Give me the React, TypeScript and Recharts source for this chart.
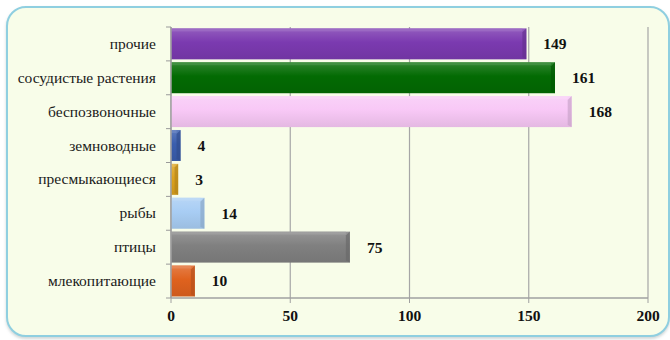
import { BarChart, Bar, XAxis, YAxis, CartesianGrid, Cell, LabelList } from 'recharts'

const categories = [
  'прочие',
  'сосудистые растения',
  'беспозвоночные',
  'земноводные',
  'пресмыкающиеся',
  'рыбы',
  'птицы',
  'млекопитающие',
]
const counts = [149, 161, 168, 4, 3, 14, 75, 10]
const barColors = ['#7b3ab0', '#036b03', '#f8c8f6', '#3a5eae', '#dca21e', '#a8cdf4', '#808080', '#df621e']
const xTicks = [0, 50, 100, 150, 200]

const data = categories.map((name, i) => ({ name, value: counts[i] }))

const W = 670
const H = 340
const M = { top: 27, right: 22, bottom: 12, left: 0 }
const X_AXIS_H = 30
const BAND = (H - M.top - M.bottom - X_AXIS_H) / categories.length

const serif = 'Liberation Serif, Times New Roman, serif'
const FS = 15.5

function lighten(hex: string, amt: number) {
  const n = parseInt(hex.slice(1), 16)
  const mix = (c: number) => Math.round(amt >= 0 ? c + (255 - c) * amt : c * (1 + amt))
  const r = mix((n >> 16) & 255)
  const g = mix((n >> 8) & 255)
  const b = mix(n & 255)
  return `rgb(${r},${g},${b})`
}

// bevelled bar: gradient body + darker right edge
function BevelBar(props: any) {
  const { x, y, width, height, index } = props
  if (!width || width <= 0) return null
  const c = barColors[index]
  const e = Math.min(4, width / 2)
  return (
    <g>
      <rect x={x} y={y} width={width} height={height} fill={`url(#bg${index})`} />
      <polygon
        points={`${x + width - e},${y + e} ${x + width},${y} ${x + width},${y + height} ${x + width - e},${y + height - 2}`}
        fill={lighten(c, -0.18)}
        opacity={0.7}
      />
      <rect x={x} y={y} width={width - e} height={3} fill={lighten(c, 0.3)} opacity={0.6} />
    </g>
  )
}

function CatTick(props: any) {
  const { x, y, payload, index } = props
  return (
    <g>
      <text x={x - 15} y={y} dy={5} textAnchor="end" style={{ fontFamily: serif }} fontSize={FS} fill="#1a1a1a">
        {payload.value}
      </text>
      <line x1={x - 5} x2={x} y1={y - BAND / 2} y2={y - BAND / 2} stroke="#9a9a9a" />
      {index === categories.length - 1 && (
        <line x1={x - 5} x2={x} y1={y + BAND / 2} y2={y + BAND / 2} stroke="#9a9a9a" />
      )}
    </g>
  )
}

function ValueTick(props: any) {
  const { x, y, payload } = props
  return (
    <text x={x} y={y} dy={12} textAnchor="middle" style={{ fontFamily: serif }} fontSize={FS} fontWeight="bold" fill="#111">
      {payload.value}
    </text>
  )
}

export default function App() {
  return (
    <div style={{ position: 'fixed', left: 0, top: 0, width: W, height: H, background: '#fff', fontFamily: serif }}>
      <div
        style={{
          position: 'absolute',
          left: 6,
          top: 6,
          width: 660,
          height: 327,
          border: '2px solid #8fcfe0',
          borderRadius: 20,
          background: '#f8fde9',
          boxShadow: '0 2px 3px rgba(120,140,140,0.35)',
        }}
      />
      <div style={{ position: 'absolute', left: 0, top: 0 }}>
        <BarChart width={W} height={H} data={data} layout="vertical" margin={M} barCategoryGap="4%">
          <defs>
            {barColors.map((c, i) => (
              <linearGradient key={i} id={`bg${i}`} x1="0" y1="0" x2="0" y2="1">
                <stop offset="0%" stopColor={lighten(c, 0.18)} />
                <stop offset="45%" stopColor={c} />
                <stop offset="100%" stopColor={lighten(c, -0.08)} />
              </linearGradient>
            ))}
          </defs>
          <CartesianGrid horizontal={false} stroke="#a6a6a6" strokeWidth={1.2} />
          <XAxis
            type="number"
            domain={[0, 200]}
            ticks={xTicks}
            interval={0}
            height={X_AXIS_H}
            axisLine={{ stroke: '#a0a0a0', strokeWidth: 1.5 }}
            tickLine={{ stroke: '#a0a0a0' }}
            tickSize={5}
            tickMargin={6}
            tick={<ValueTick />}
          />
          <YAxis
            type="category"
            dataKey="name"
            width={171}
            axisLine={{ stroke: '#a0a0a0', strokeWidth: 1.5 }}
            tickLine={false}
            tickSize={0}
            tickMargin={0}
            interval={0}
            tick={<CatTick />}
          />
          <Bar dataKey="value" shape={<BevelBar />} isAnimationActive={false}>
            {data.map((_, i) => (
              <Cell key={i} fill={barColors[i]} />
            ))}
            <LabelList
              dataKey="value"
              position="right"
              offset={17}
              style={{ fontFamily: serif }}
              fontSize={FS}
              fontWeight="bold"
              fill="#111"
            />
          </Bar>
        </BarChart>
      </div>
    </div>
  )
}
